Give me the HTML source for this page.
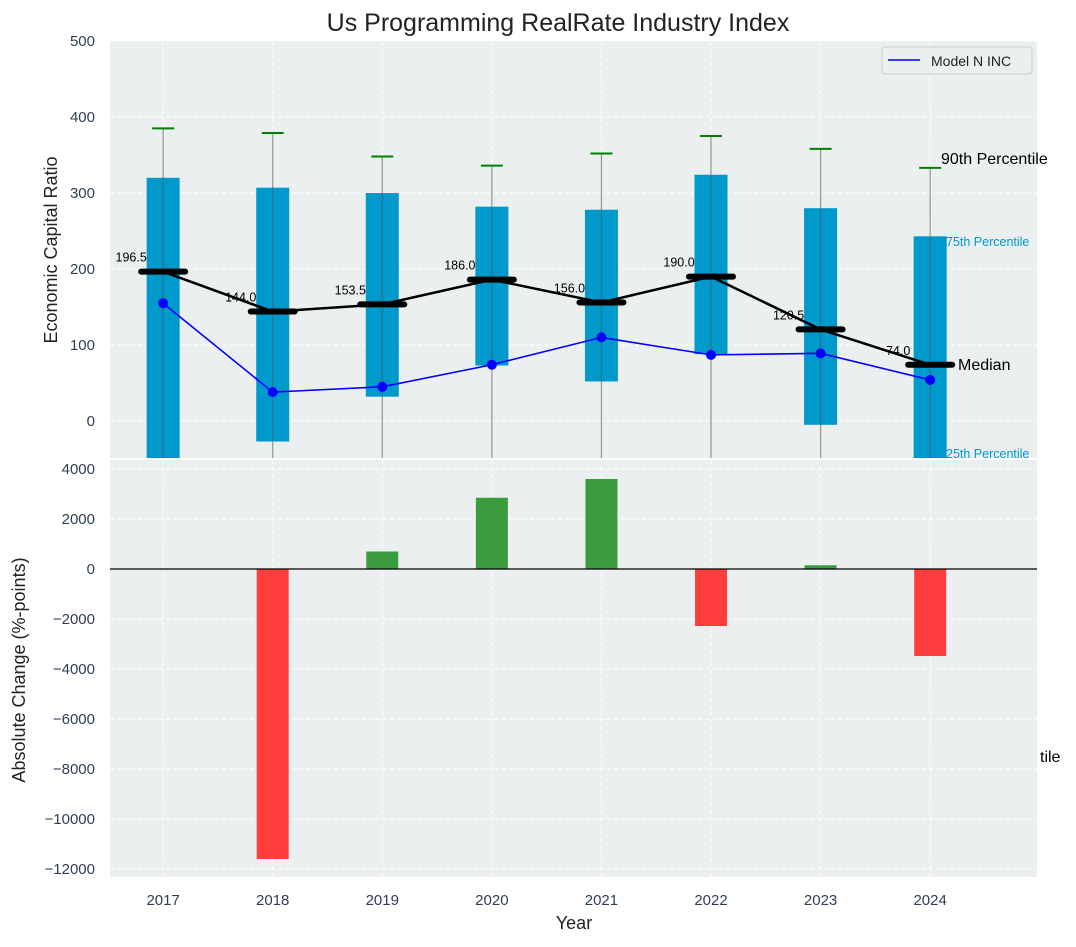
<!DOCTYPE html>
<html><head><meta charset="utf-8"><style>
body{margin:0;background:#fff;}
svg text{font-family:"Liberation Sans","DejaVu Sans",sans-serif;}
</style></head><body>
<svg id="c" width="1076" height="942" xmlns="http://www.w3.org/2000/svg"></svg>
<script>
const years=[2017,2018,2019,2020,2021,2022,2023,2024];
const q1=[-80,-27,32,73,52,88,-5,-80];
const q3=[320,307,300,282,278,324,280,243];
const p90=[385,379,348,336,352,375,358,333];
const medians=[196.5,144.0,153.5,186.0,156.0,190.0,120.5,74.0];
const modelN=[155,38,45,74,110,87,89,54];
const changes=[0,-11600,700,2850,3600,-2280,150,-3480];
const topTicks=[0,100,200,300,400,500];
const botTicks=[4000,2000,0,-2000,-4000,-6000,-8000,-10000,-12000];

const NS="http://www.w3.org/2000/svg";
const svg=document.getElementById('c');
function el(t,a,p){const e=document.createElementNS(NS,t);for(const k in a)e.setAttribute(k,a[k]);(p||svg).appendChild(e);return e;}
const L=110,R=1037,T1=41,B1=458,T2=460,B2=877;
const X=v=>L+(v-2016.515)/(2024.975-2016.515)*(R-L);
const Y1=v=>421-v*0.76;
const Y2=v=>569-v*0.025;

const bg1=el('rect',{x:L,y:T1,width:R-L,height:B1-T1,fill:'#ebeff0'});


const bg2=el('rect',{x:L,y:T2,width:R-L,height:B2-T2,fill:'#ebeff0'});



const cp1=el('clipPath',{id:'cp1'});el('rect',{x:L,y:T1,width:R-L,height:B1-T1},cp1);
const cp2=el('clipPath',{id:'cp2'});el('rect',{x:L,y:T2,width:R-L,height:B2-T2},cp2);
const g1=el('g',{'clip-path':'url(#cp1)'});
const g2=el('g',{'clip-path':'url(#cp2)'});

years.forEach(y=>{
  el('line',{x1:X(y),x2:X(y),y1:T1,y2:B1,stroke:'#fff','stroke-dasharray':'4,3','stroke-width':1},g1);
  el('line',{x1:X(y),x2:X(y),y1:T2,y2:B2,stroke:'#fff','stroke-dasharray':'4,3','stroke-width':1},g2);
});
topTicks.forEach(v=>{
  el('line',{x1:L,x2:R,y1:Y1(v),y2:Y1(v),stroke:'#fff','stroke-dasharray':'4,3'},g1);
  const t=el('text',{x:95,y:Y1(v)+5,'text-anchor':'end','font-size':15,fill:'#2e3f55'});t.textContent=v;
  
  
});
botTicks.forEach(v=>{
  el('line',{x1:L,x2:R,y1:Y2(v),y2:Y2(v),stroke:'#fff','stroke-dasharray':'4,3'},g2);
  const t=el('text',{x:95,y:Y2(v)+5,'text-anchor':'end','font-size':15,fill:'#2e3f55'});t.textContent=v<0?'\u2212'+(-v):v;
  
  
});

years.forEach((yr,i)=>{
  const x=X(yr);
  const b=el('rect',{x:x-16.5,y:Y1(q3[i]),width:33,height:Y1(q1[i])-Y1(q3[i]),fill:'#0099cc'},g1);
  
  
  el('line',{x1:x,x2:x,y1:Y1(p90[i]),y2:B1+5,stroke:'#555','stroke-opacity':0.6,'stroke-width':1.2},g1);
  const c=el('line',{x1:x-11,x2:x+11,y1:Y1(p90[i]),y2:Y1(p90[i]),stroke:'#008000','stroke-width':2},g1);
  
  
});
el('polyline',{points:years.map((y,i)=>X(y)+','+Y1(medians[i])).join(' '),fill:'none',stroke:'#000','stroke-width':2.5},g1);
years.forEach((yr,i)=>{
  const m=el('line',{x1:X(yr)-22,x2:X(yr)+22,y1:Y1(medians[i]),y2:Y1(medians[i]),stroke:'#000','stroke-width':6,'stroke-linecap':'round'},g1);
  
  
  const t=el('text',{x:X(yr)-32,y:Y1(medians[i])-10,'text-anchor':'middle','font-size':12.5,fill:'#000'});t.textContent=medians[i].toFixed(1);
  
  
});
const ml=el('polyline',{points:years.map((y,i)=>X(y)+','+Y1(modelN[i])).join(' '),fill:'none',stroke:'#0000ff','stroke-width':1.6},g1);


years.forEach((yr,i)=>{
  const p=el('circle',{cx:X(yr),cy:Y1(modelN[i]),r:5,fill:'#0000ff'},g1);
  
  
});
years.forEach((yr,i)=>{
  const v=changes[i];
  const b=el('rect',{x:X(yr)-16,y:Math.min(Y2(v),Y2(0)),width:32,height:Math.abs(Y2(v)-Y2(0)),fill:v>=0?'#3a9c3d':'#ff3d3d'},g2);
  
  
  const t=el('text',{x:X(yr),y:905,'text-anchor':'middle','font-size':15,fill:'#2e3f55'});t.textContent=yr;
  
  
});
el('line',{x1:L,x2:R,y1:Y2(0),y2:Y2(0),stroke:'#000','stroke-width':1.2},g2);

function txt(x,y,s,size,fill,name,anchor,rot){const t=el('text',{x:x,y:y,'font-size':size,fill:fill,'text-anchor':anchor||'start'});if(rot)t.setAttribute('transform',rot);t.textContent=s;
  
  return t;}
txt(558,31,'Us Programming RealRate Industry Index',25,'#222','chart-title','middle');
txt(574,929,'Year',18,'#222','x-axis-title','middle');
txt(57,250,'Economic Capital Ratio',18,'#222','y-axis-title','middle','rotate(-90 57 250)');
txt(25,670,'Absolute Change (%-points)',18,'#222','y2-axis-title','middle','rotate(-90 25 670)');
txt(941,164,'90th Percentile',16,'#000','annotation-90th');
txt(946,246,'75th Percentile',12.5,'#0099cc','annotation-75th');
txt(958,370,'Median',16,'#000','annotation-median');
txt(946,458,'25th Percentile',12.5,'#0099cc','annotation-25th');
txt(1040,762,'tile',16,'#000','annotation-clipped');

const lg=el('g',{});


el('rect',{x:882,y:47,width:150,height:27,rx:3,fill:'#ebeff0',stroke:'#ccc'},lg);
el('line',{x1:888,x2:920,y1:60,y2:60,stroke:'#0000ff','stroke-width':1.6},lg);
const lt=el('text',{x:931,y:66,'font-size':14,fill:'#222'},lg);lt.textContent='Model N INC';


</script>
</body></html>
